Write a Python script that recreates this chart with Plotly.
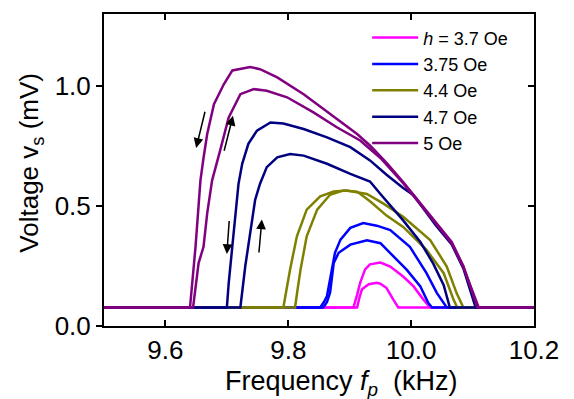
import plotly.graph_objects as go

# ---------------- data ----------------
labels = ["<i>h</i> = 3.7 Oe", "3.75 Oe", "4.4 Oe", "4.7 Oe", "5 Oe"]
colors = ["#FF00FF", "#0000FF", "#808000", "#000080", "#800080"]

# h = 3.7 Oe
pink_a_x = [9.5, 9.906, 9.912, 9.917, 9.925, 9.933, 9.95, 9.966, 9.987, 10.004, 10.02, 10.031, 10.2]
pink_a_y = [0.077, 0.077, 0.13, 0.18, 0.236, 0.257, 0.264, 0.248, 0.206, 0.165, 0.11, 0.077, 0.077]
pink_b_x = [9.5, 9.912, 9.916, 9.920, 9.931, 9.944, 9.95, 9.96, 9.971, 9.979, 10.2]
pink_b_y = [0.077, 0.077, 0.12, 0.153, 0.174, 0.18, 0.176, 0.158, 0.11, 0.077, 0.077]

# h = 3.75 Oe
blue_a_x = [9.5, 9.852, 9.858, 9.863, 9.871, 9.876, 9.885, 9.901, 9.922, 9.944, 9.966, 9.998, 10.025, 10.042, 10.058, 10.2]
blue_a_y = [0.077, 0.077, 0.10, 0.125, 0.236, 0.305, 0.36, 0.409, 0.429, 0.418, 0.40, 0.33, 0.22, 0.137, 0.077, 0.077]
blue_b_x = [9.5, 9.857, 9.863, 9.868, 9.874, 9.882, 9.901, 9.928, 9.95, 9.966, 9.993, 10.015, 10.028, 10.034, 10.2]
blue_b_y = [0.077, 0.077, 0.10, 0.139, 0.263, 0.305, 0.339, 0.357, 0.345, 0.303, 0.234, 0.165, 0.096, 0.077, 0.077]

# h = 4.4 Oe
olive_a_x = [9.5, 9.792, 9.797, 9.803, 9.814, 9.830, 9.852, 9.874, 9.895, 9.928, 9.955, 9.987, 10.031, 10.058, 10.074, 10.085, 10.2]
olive_a_y = [0.077, 0.077, 0.15, 0.236, 0.374, 0.485, 0.54, 0.56, 0.565, 0.55, 0.51, 0.455, 0.358, 0.248, 0.137, 0.077, 0.077]
olive_b_x = [9.5, 9.811, 9.815, 9.820, 9.830, 9.847, 9.868, 9.890, 9.912, 9.933, 9.96, 9.987, 10.025, 10.053, 10.069, 10.075, 10.2]
olive_b_y = [0.077, 0.077, 0.15, 0.236, 0.374, 0.485, 0.547, 0.565, 0.56, 0.52, 0.46, 0.413, 0.317, 0.22, 0.11, 0.077, 0.077]

# h = 4.7 Oe
navy_a_x = [9.5, 9.700, 9.703, 9.708, 9.714, 9.719, 9.725, 9.735, 9.749, 9.771, 9.792, 9.825, 9.863, 9.901, 9.933,
            9.96, 9.987, 10.004, 10.04, 10.066, 10.085, 10.098, 10.105, 10.2]
navy_a_y = [0.077, 0.077, 0.179, 0.317, 0.455, 0.593, 0.676, 0.759, 0.814, 0.848, 0.844, 0.821, 0.786, 0.745, 0.69,
            0.63, 0.575, 0.545, 0.42, 0.34, 0.24, 0.14, 0.077, 0.077]
navy_b_x = [9.5, 9.722, 9.730, 9.738, 9.746, 9.754, 9.765, 9.782, 9.803, 9.825, 9.863, 9.901, 9.933, 9.95, 9.987,
            10.015, 10.036, 10.053, 10.063, 10.2]
navy_b_y = [0.077, 0.077, 0.25, 0.387, 0.525, 0.593, 0.662, 0.703, 0.717, 0.71, 0.676, 0.634, 0.602, 0.55, 0.44,
            0.35, 0.26, 0.17, 0.077, 0.077]

# h = 5 Oe
purple_a_x = [9.5, 9.640, 9.649, 9.657, 9.662, 9.668, 9.679, 9.695, 9.709, 9.722, 9.738, 9.754, 9.782, 9.825, 9.868,
              9.912, 9.933, 9.96, 9.987, 10.015, 10.04, 10.066, 10.085, 10.098, 10.108, 10.2]
purple_a_y = [0.077, 0.077, 0.33, 0.607, 0.70, 0.80, 0.924, 1.007, 1.065, 1.07, 1.079, 1.07, 1.036, 0.966, 0.883,
              0.80, 0.752, 0.68, 0.60, 0.51, 0.43, 0.35, 0.25, 0.15, 0.077, 0.077]
purple_b_x = [9.5, 9.645, 9.654, 9.662, 9.668, 9.676, 9.689, 9.703, 9.722, 9.744, 9.765, 9.798, 9.841, 9.879, 9.917,
              9.95, 9.987, 10.015, 10.04, 10.066, 10.085, 10.1, 10.11, 10.2]
purple_b_y = [0.077, 0.077, 0.262, 0.33, 0.469, 0.607, 0.731, 0.869, 0.966, 0.987, 0.98, 0.953, 0.89, 0.828, 0.773,
              0.70, 0.595, 0.505, 0.425, 0.345, 0.245, 0.14, 0.077, 0.077]

series = [
    (pink_a_x, pink_a_y, pink_b_x, pink_b_y),
    (blue_a_x, blue_a_y, blue_b_x, blue_b_y),
    (olive_a_x, olive_a_y, olive_b_x, olive_b_y),
    (navy_a_x, navy_a_y, navy_b_x, navy_b_y),
    (purple_a_x, purple_a_y, purple_b_x, purple_b_y),
]

# sweep-direction arrows: (tail x, tail y, head x, head y)
arrows = [
    (9.665, 0.899, 9.650, 0.742),
    (9.695, 0.724, 9.710, 0.876),
    (9.704, 0.444, 9.700, 0.300),
    (9.752, 0.300, 9.757, 0.444),
]

x_ticks = [9.6, 9.8, 10.0, 10.2]
y_ticks = [0.0, 0.5, 1.0]
x_range = [9.5, 10.2]
y_range = [0.0, 1.3]
x_title = "Frequency <i>f</i><sub><i>p</i></sub>&nbsp; (kHz)"
y_title = "Voltage v<sub>s</sub> (mV)"

FONT = "Liberation Sans, Arial, sans-serif"

fig = go.Figure()
for (xa, ya, xb, yb), lab, col in zip(series, labels, colors):
    fig.add_trace(go.Scatter(x=xa, y=ya, mode="lines", name=lab,
                             line=dict(color=col, width=2.5), legendgroup=lab))
    fig.add_trace(go.Scatter(x=xb, y=yb, mode="lines", name=lab, showlegend=False,
                             line=dict(color=col, width=2.5), legendgroup=lab))

# helper trace for the right-hand (inside) tick axis
fig.add_trace(go.Scatter(x=[x_range[0]], y=[y_range[0]], yaxis="y2", mode="lines",
                         showlegend=False, hoverinfo="skip", line=dict(width=0)))

for tx, ty, hx, hy in arrows:
    fig.add_annotation(x=hx, y=hy, ax=tx, ay=ty, xref="x", yref="y", axref="x", ayref="y",
                       text="", showarrow=True, arrowhead=2, arrowsize=1.3, arrowwidth=1.5,
                       arrowcolor="black")

# axis titles as annotations (positioned as in the reference)
fig.add_annotation(text=x_title, xref="paper", yref="paper", x=0.552, y=-0.182,
                   xanchor="center", yanchor="middle", showarrow=False, borderpad=0,
                   font=dict(family=FONT, size=27, color="black"))
fig.add_annotation(text=y_title, xref="paper", yref="paper", x=-0.171, y=0.525,
                   xanchor="center", yanchor="middle", showarrow=False, textangle=-90,
                   borderpad=0, font=dict(family=FONT, size=26, color="black"))

# the page body has an 8px default margin, margins below compensate for it
fig.update_layout(
    width=574, height=399,
    margin=dict(l=95.5, r=48, t=4.3, b=80.5),
    paper_bgcolor="white", plot_bgcolor="white",
    font=dict(family=FONT, size=26, color="black"),
    showlegend=True,
    legend=dict(x=0.612, y=0.983, xanchor="left", yanchor="top",
                bgcolor="rgba(0,0,0,0)", font=dict(size=18, family=FONT),
                itemwidth=46, tracegroupgap=0),
    xaxis=dict(range=x_range, tickvals=x_ticks, tickformat=".1f",
               ticks="inside", ticklen=6, tickwidth=1.5, tickcolor="black",
               showline=True, linecolor="black", linewidth=2, mirror="ticks",
               showgrid=False, zeroline=False, tickfont=dict(size=26)),
    yaxis=dict(range=y_range, tickvals=y_ticks, tickformat=".1f",
               ticks="outside", ticklen=6, tickwidth=1.5, tickcolor="black",
               showline=True, linecolor="black", linewidth=2, mirror=True,
               showgrid=False, zeroline=False, tickfont=dict(size=26)),
    yaxis2=dict(range=y_range, tickvals=y_ticks, overlaying="y", side="right",
                ticks="inside", ticklen=6, tickwidth=1.5, tickcolor="black",
                showticklabels=False, showline=False, showgrid=False, zeroline=False),
)

fig.write_html("out.html")
